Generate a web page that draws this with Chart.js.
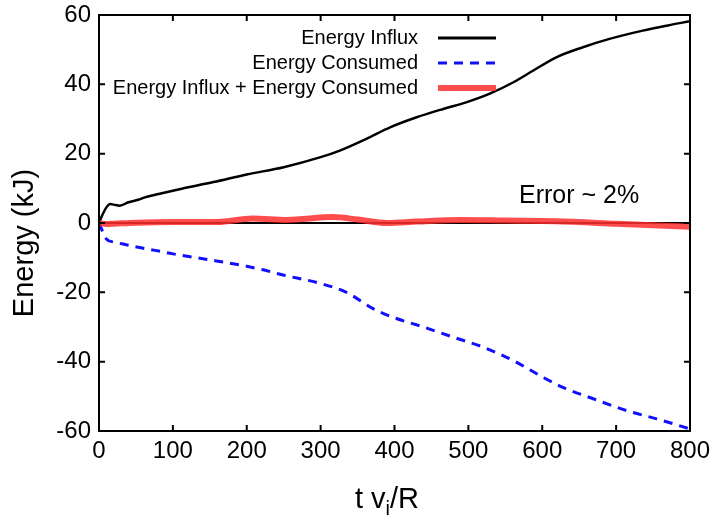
<!DOCTYPE html>
<html>
<head>
<meta charset="utf-8">
<script src="https://cdn.jsdelivr.net/npm/chart.js@4"></script>
<style>
  body { margin: 0; background: #fff; }
  #wrap { width: 712px; height: 523px; position: relative; }
</style>
</head>
<body>
<div id="wrap"><canvas id="chart"></canvas></div>
<script>
const FONT = "'Liberation Sans', Arial, sans-serif";

// energy influx (black)
const influxT = [0, 5, 10, 15, 20, 28, 40, 53, 62, 85, 112, 155, 200, 250, 300, 326, 362, 394, 430, 466, 497, 529, 561, 588, 619, 655, 691, 736, 770, 800];
const influxE = [0, 2.5, 4.5, 5.5, 5.3, 5.0, 6.0, 6.7, 7.4, 8.6, 9.9, 11.8, 14.0, 16.1, 19.0, 20.9, 24.3, 27.6, 30.5, 32.9, 34.8, 37.3, 40.6, 44.0, 47.8, 50.7, 53.1, 55.5, 57.0, 58.2];

// energy consumed (blue dashed)
const consumedT = [0, 5, 10, 20, 31, 53, 76, 100, 155, 200, 222, 249, 299, 335, 371, 398, 439, 479, 520, 561, 601, 628, 669, 714, 755, 800];
const consumedE = [0, -2.5, -4.6, -5.5, -6.0, -7.0, -7.9, -8.9, -10.8, -12.5, -13.5, -15.0, -17.4, -20.0, -24.7, -27.2, -30.0, -32.9, -35.8, -39.7, -44.5, -47.4, -50.7, -54.1, -56.5, -59.4];

// sum (red)
const sumT = [0, 10, 20, 50, 100, 160, 208, 254, 317, 350, 390, 430, 489, 550, 618, 700, 800];
const sumE = [0, -0.3, -0.2, 0.1, 0.3, 0.3, 1.3, 0.9, 1.7, 1.0, 0.0, 0.4, 0.9, 0.7, 0.5, -0.2, -1.1];

const xTicks = [0, 100, 200, 300, 400, 500, 600, 700, 800];
const yTicks = [-60, -40, -20, 0, 20, 40, 60];

const seriesNames = ["Energy Influx", "Energy Consumed", "Energy Influx + Energy Consumed"];

const toPoints = (ts, es) => ts.map((t, i) => ({ x: t, y: es[i] }));

// frame, inner ticks, legend and text labels
const decor = {
  id: "decor",
  afterDraw(chart) {
    const { ctx, chartArea: a, scales } = chart;
    ctx.save();
    ctx.strokeStyle = "#000";
    ctx.lineWidth = 2;
    ctx.strokeRect(a.left, a.top, a.right - a.left, a.bottom - a.top);
    ctx.beginPath();
    xTicks.forEach((v) => {
      const px = scales.x.getPixelForValue(v);
      ctx.moveTo(px, a.bottom); ctx.lineTo(px, a.bottom - 6);
      ctx.moveTo(px, a.top); ctx.lineTo(px, a.top + 6);
    });
    yTicks.forEach((v) => {
      const py = scales.y.getPixelForValue(v);
      ctx.moveTo(a.left, py); ctx.lineTo(a.left + 6, py);
      ctx.moveTo(a.right, py); ctx.lineTo(a.right - 6, py);
    });
    ctx.stroke();

    // legend
    ctx.font = "20px " + FONT;
    ctx.fillStyle = "#000";
    ctx.textAlign = "right";
    ctx.textBaseline = "middle";
    chart.data.datasets.forEach((ds, i) => {
      const y = 38 + i * 25;
      ctx.fillText(ds.label, 418, y);
      ctx.beginPath();
      ctx.strokeStyle = ds.borderColor;
      ctx.lineWidth = i === 2 ? 6 : 3;
      ctx.setLineDash(ds.borderDash || []);
      ctx.moveTo(438, y); ctx.lineTo(496, y);
      ctx.stroke();
    });
    ctx.setLineDash([]);

    // annotation
    ctx.textAlign = "left";
    ctx.textBaseline = "alphabetic";
    ctx.font = "25px " + FONT;
    ctx.fillText("Error ~ 2%", 519, 203);

    // y title
    ctx.save();
    ctx.font = "29px " + FONT;
    ctx.translate(33, 243);
    ctx.rotate(-Math.PI / 2);
    ctx.textAlign = "center";
    ctx.fillText("Energy (kJ)", 0, 0);
    ctx.restore();

    // x title with subscript
    let x = 355;
    ctx.font = "29px " + FONT;
    ctx.fillText("t v", x, 508);
    x += ctx.measureText("t v").width;
    ctx.font = "20px " + FONT;
    ctx.fillText("i", x, 515);
    x += ctx.measureText("i").width;
    ctx.font = "29px " + FONT;
    ctx.fillText("/R", x, 508);
    ctx.restore();
  },
};

new Chart(document.getElementById("chart"), {
  type: "line",
  data: {
    datasets: [
      {
        label: seriesNames[0],
        data: toPoints(influxT, influxE),
        borderColor: "#000000",
        borderWidth: 2.5,
        pointRadius: 0,
        cubicInterpolationMode: "monotone",
        order: 2,
      },
      {
        label: seriesNames[1],
        data: toPoints(consumedT, consumedE),
        borderColor: "#1010ff",
        borderWidth: 3,
        borderDash: [9, 7],
        pointRadius: 0,
        cubicInterpolationMode: "monotone",
        order: 3,
      },
      {
        label: seriesNames[2],
        data: toPoints(sumT, sumE),
        borderColor: "rgba(255, 45, 45, 0.85)",
        borderWidth: 6,
        pointRadius: 0,
        cubicInterpolationMode: "monotone",
        order: 1,
      },
    ],
  },
  options: {
    responsive: true,
    maintainAspectRatio: false,
    animation: false,
    layout: { padding: { top: 15, right: 22, left: 0, bottom: 0 } },
    plugins: { legend: { display: false }, tooltip: { enabled: false } },
    scales: {
      x: {
        type: "linear",
        min: 0,
        max: 800,
        border: { display: false },
        grid: { drawOnChartArea: false, drawTicks: false },
        ticks: {
          stepSize: 100,
          color: "#000",
          padding: 6,
          maxRotation: 0,
          font: { size: 24, family: FONT },
        },
        afterFit: (s) => { s.height = 92; s.paddingLeft = 0; s.paddingRight = 0; },
      },
      y: {
        min: -60,
        max: 60,
        border: { display: false },
        grid: {
          drawTicks: false,
          lineWidth: 2,
          color: (c) => (c.tick && c.tick.value === 0 ? "#000" : "rgba(0,0,0,0)"),
        },
        ticks: {
          stepSize: 20,
          color: "#000",
          padding: 8,
          font: { size: 24, family: FONT },
        },
        afterFit: (s) => { s.width = 99; s.paddingTop = 0; s.paddingBottom = 0; },
      },
    },
  },
  plugins: [decor],
});
</script>
</body>
</html>
